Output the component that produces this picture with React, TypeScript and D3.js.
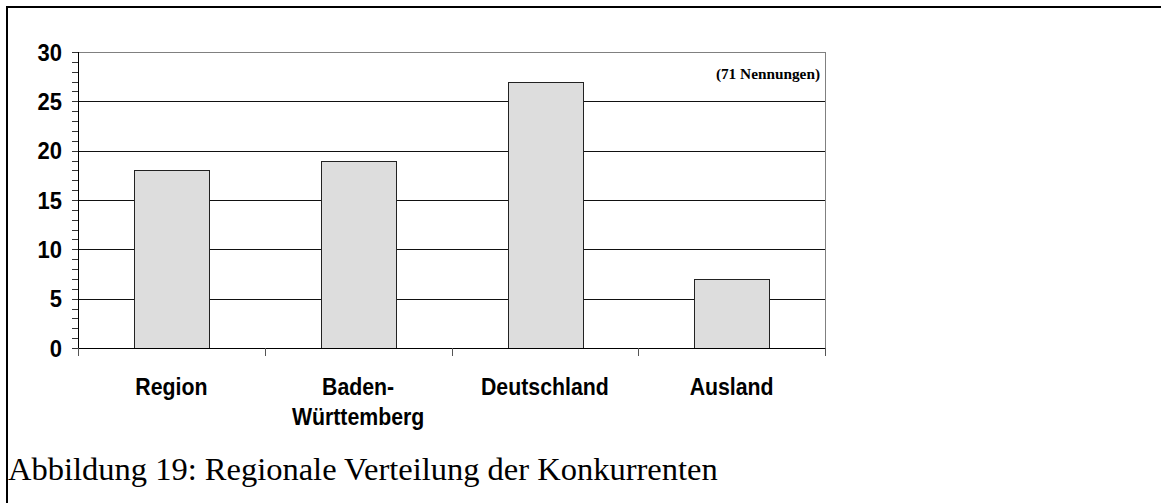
import React from "react";
import * as d3 from "d3";

const categories = ["Region", "Baden-Württemberg", "Deutschland", "Ausland"];
const categoryLines = [["Region"], ["Baden-", "Württemberg"], ["Deutschland"], ["Ausland"]];
const values = [18, 19, 27, 7];
const yTicks = [0, 5, 10, 15, 20, 25, 30];
const minorTicks = d3.range(0, 31, 1);
const note = "(71 Nennungen)";
const caption = "Abbildung 19: Regionale Verteilung der Konkurrenten";

export default function App() {
  const W = 1161, H = 503;
  const left = 78, right = 825, top = 52, bottom = 348;
  const y = d3.scaleLinear().domain([0, 30]).range([bottom, top]);
  const x = d3.scaleBand<string>().domain(categories).range([left, right]).paddingInner(0.6).paddingOuter(0.3);
  const step = x.step();
  const boundaries = d3.range(0, categories.length + 1).map((i) => left + i * step);
  const sans = "'Liberation Sans', Arial, sans-serif";
  const serif = "'Liberation Serif', 'Times New Roman', serif";
  const sy = 1.08;

  return (
    <svg width={W} height={H} style={{ position: "absolute", left: 0, top: 0, background: "#fff" }}>
      {/* frame */}
      <line x1={7} y1={7} x2={W} y2={7} stroke="#000" strokeWidth={2} />
      <line x1={7} y1={6} x2={7} y2={H} stroke="#000" strokeWidth={2} />

      {/* gridlines */}
      {yTicks.filter((t) => t > 0 && t < 30).map((t) => (
        <line key={t} x1={left} x2={right} y1={Math.round(y(t)) + 0.5} y2={Math.round(y(t)) + 0.5} stroke="#111" strokeWidth={1} />
      ))}
      {/* plot border top/right */}
      <line x1={left} x2={right + 0.5} y1={top + 0.5} y2={top + 0.5} stroke="#808080" strokeWidth={1} />
      <line x1={right + 0.5} x2={right + 0.5} y1={top} y2={bottom} stroke="#808080" strokeWidth={1} />

      {/* bars */}
      {values.map((v, i) => (
        <rect key={i} x={Math.round(x(categories[i])!) + 0.5} y={Math.round(y(v)) + 0.5}
          width={Math.round(x.bandwidth())} height={Math.round(y(0)) - Math.round(y(v))}
          fill="#dddddd" stroke="#222" strokeWidth={1} />
      ))}

      {/* y axis */}
      <line x1={left + 0.5} x2={left + 0.5} y1={top} y2={bottom + 1} stroke="#000" strokeWidth={1} />
      {minorTicks.map((t) => (
        <line key={t} x1={left - 6} x2={left} y1={Math.round(y(t)) + 0.5} y2={Math.round(y(t)) + 0.5} stroke="#333" strokeWidth={1} />
      ))}
      {yTicks.map((t) => (
        <g key={t} transform={`translate(${left - 16},${y(t)}) scale(1,${sy})`}>
          <text x={0} y={0} dy="0.36em" textAnchor="end" fontFamily={sans} fontWeight="bold" fontSize={22} fill="#000">{t}</text>
        </g>
      ))}

      {/* x axis */}
      <line x1={left} x2={right + 1} y1={bottom + 0.5} y2={bottom + 0.5} stroke="#000" strokeWidth={1} />
      {boundaries.map((b, i) => (
        <line key={i} x1={Math.round(b) + 0.5} x2={Math.round(b) + 0.5} y1={bottom} y2={bottom + 8} stroke="#555" strokeWidth={1} />
      ))}
      {categories.map((c, i) => (
        <g key={c} transform={`translate(${x(c)! + x.bandwidth() / 2},395) scale(1,${sy})`}>
          <text x={0} y={0} textAnchor="middle" fontFamily={sans} fontWeight="bold" fontSize={21.3} fill="#000">
            {categoryLines[i].map((ln, j) => (
              <tspan key={j} x={0} dy={j === 0 ? 0 : 27.5}>{ln}</tspan>
            ))}
          </text>
        </g>
      ))}

      {/* note */}
      <text x={820} y={79} textAnchor="end" fontFamily={serif} fontWeight="bold" fontSize={15.3} fill="#000">{note}</text>

      {/* caption */}
      <text x={8} y={480} fontFamily={serif} fontSize={32.5} fill="#000">{caption}</text>
    </svg>
  );
}
